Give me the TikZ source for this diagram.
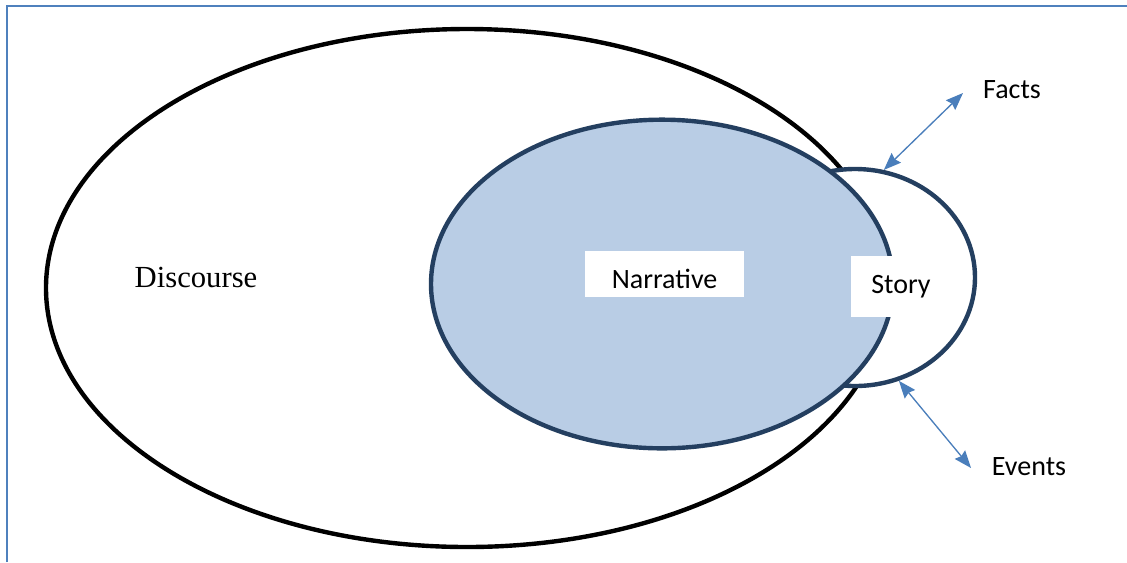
\documentclass[tikz,border=0pt]{standalone}
\usepackage{fontspec}
\setmainfont{Liberation Serif}
\newfontfamily\calibri{Carlito}
\usepackage{tikz}
\usetikzlibrary{shapes.geometric,arrows.meta}
\definecolor{navyline}{HTML}{243F60}
\definecolor{narrfill}{HTML}{B9CDE5}
\definecolor{arrowblue}{HTML}{4A7EBB}
\definecolor{frameblue}{HTML}{4F81BD}
\tikzset{
  oval/.style={ellipse, inner sep=0pt, line width=3.3pt},
  tag/.style={inner sep=0pt, font=\calibri\fontsize{21}{25}\selectfont},
  link/.style={{Stealth[length=13pt,width=10pt,inset=1.5pt]}-{Stealth[length=13pt,width=10pt,inset=1.5pt]},
    arrowblue, line width=1pt}
}

\begin{document}
\begin{tikzpicture}[x=0.75pt,y=-0.75pt]
\useasboundingbox (0,0) rectangle (1127,562);
\draw[frameblue, line width=1.5pt] (7,562) -- (7,6) -- (1127,6);

\node[oval, draw=black, minimum width=631.5pt, minimum height=388.5pt] (discourse) at (467,288) {};
\node[oval, draw=navyline, fill=white, minimum width=180pt, minimum height=162.75pt] (story) at (855,277.5) {};
\node[oval, draw=navyline, fill=narrfill, minimum width=346.5pt, minimum height=246.5pt] (narrative) at (662,284) {};

\node[font=\fontsize{23}{27}\selectfont] (disclabel) at (196,277) {Discourse};
\node[tag, fill=white, minimum width=119.25pt, minimum height=34.5pt,
      text height=21pt, text depth=0pt] (narrlabel) at (664.5,274) {Narrative};
\node[tag, fill=white, minimum width=75pt, minimum height=45.75pt] (storylabel) at (901,286.5) {Story};

\node[tag] (facts) at (1012,90) {Facts};
\node[tag] (events) at (1029,467) {Events};

\coordinate (factsend)  at (963,93);
\coordinate (eventsend) at (971,468);

\draw[link] (story.75.5) -- (factsend);
\draw[link] (story.-67.6) -- (eventsend);
\end{tikzpicture}
\end{document}
